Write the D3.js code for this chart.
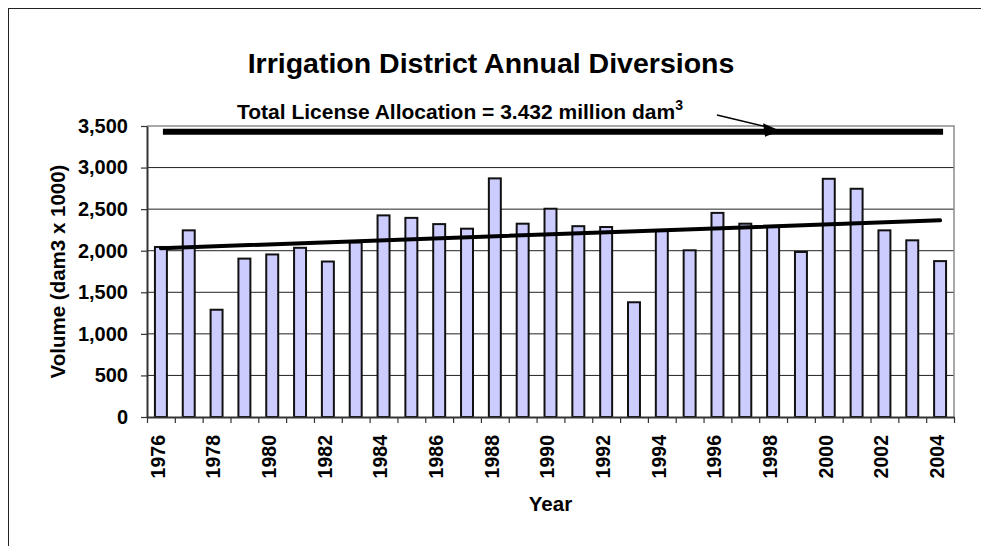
<!DOCTYPE html>
<html>
<head>
<meta charset="utf-8">
<script src="https://cdn.jsdelivr.net/npm/d3@7"></script>
<style>
  body { margin: 0; background: #fff; }
  svg { display: block; font-family: "Liberation Sans", Arial, sans-serif; font-weight: bold; }
</style>
</head>
<body>
<div id="chart"></div>
<script>
// data
var years = [1976, 1977, 1978, 1979, 1980, 1981, 1982, 1983, 1984, 1985,
  1986, 1987, 1988, 1989, 1990, 1991, 1992, 1993, 1994, 1995,
  1996, 1997, 1998, 1999, 2000, 2001, 2002, 2003, 2004]
var diversions = [2045, 2245, 1290, 1905, 1955, 2035, 1870, 2100, 2425, 2395,
  2320, 2265, 2870, 2325, 2505, 2295, 2285, 1380, 2240, 2005,
  2455, 2325, 2285, 1985, 2865, 2745, 2245, 2125, 1875]
var yTicks = [0, 500, 1000, 1500, 2000, 2500, 3000, 3500]
var yearLabels = [1976, 1978, 1980, 1982, 1984, 1986, 1988, 1990, 1992, 1994,
  1996, 1998, 2000, 2002, 2004]
var trendYears = [1976, 2004]
var trendValues = [2030, 2365]
var allocation = 3432

function draw() {
  var width = 981
  var height = 546
  var pl = 147, pr = 954, pt = 126, pb = 417

  var svg = d3.select("#chart").append("svg")
    .attr("width", width)
    .attr("height", height)

  // outer chart frame
  svg.append("rect")
    .attr("x", 8.5).attr("y", 8.5)
    .attr("width", 1000).attr("height", 600)
    .attr("fill", "none")
    .attr("stroke", "#222")
    .attr("stroke-width", 1)

  var x = d3.scaleBand()
    .domain(years)
    .range([pl, pr])
    .paddingInner(0.57)
    .paddingOuter(0.285)

  // category edges for the tick marks
  var xEdge = d3.scaleLinear().domain([0, years.length]).range([pl, pr])

  var y = d3.scaleLinear().domain([0, 3500]).range([pb, pt])

  function cx(yr) { return x(yr) + x.bandwidth() / 2 }

  // gridlines
  svg.append("g")
    .selectAll("line")
    .data(yTicks.filter(function (d) { return d > 0 && d < 3500 }))
    .join("line")
    .attr("x1", pl).attr("x2", pr)
    .attr("y1", function (d) { return y(d) }).attr("y2", function (d) { return y(d) })
    .attr("stroke", "#222")
    .attr("stroke-width", 1)

  // plot border (top + right)
  svg.append("path")
    .attr("d", "M" + pl + "," + pt + "H" + pr + "V" + pb)
    .attr("fill", "none")
    .attr("stroke", "#8c8c8c")
    .attr("stroke-width", 1.5)

  // bars
  svg.append("g")
    .selectAll("rect")
    .data(years)
    .join("rect")
    .attr("x", function (d) { return x(d) })
    .attr("y", function (d, i) { return y(diversions[i]) })
    .attr("width", x.bandwidth())
    .attr("height", function (d, i) { return pb - y(diversions[i]) })
    .attr("fill", "#ccccff")
    .attr("stroke", "#111")
    .attr("stroke-width", 2)

  // y axis
  var yAxis = svg.append("g")
    .attr("transform", "translate(" + pl + ",0)")
    .call(d3.axisLeft(y).tickValues(yTicks).tickFormat(d3.format(",")).tickSize(6).tickSizeOuter(0).tickPadding(13))
  yAxis.select(".domain").attr("stroke", "#333").attr("stroke-width", 2)
  yAxis.selectAll(".tick line").attr("stroke", "#333").attr("stroke-width", 1.2)
  yAxis.selectAll("text")
    .attr("font-size", 20).attr("font-weight", "bold").attr("fill", "#000")
    .attr("font-family", "Liberation Sans, Arial, sans-serif")

  // x axis: tick marks between categories
  var xAxis = svg.append("g")
    .attr("transform", "translate(0," + pb + ")")
    .call(d3.axisBottom(xEdge).tickValues(d3.range(years.length + 1)).tickFormat("").tickSize(6).tickSizeOuter(0))
  xAxis.select(".domain").attr("stroke", "#333").attr("stroke-width", 2)
  xAxis.selectAll(".tick line").attr("stroke", "#333").attr("stroke-width", 1.2)

  // year labels, rotated
  svg.append("g")
    .selectAll("text")
    .data(yearLabels)
    .join("text")
    .attr("transform", function (d) { return "translate(" + cx(d) + ",435) rotate(-90)" })
    .attr("dy", "0.2em")
    .attr("text-anchor", "end")
    .attr("font-size", 19.5)
    .text(function (d) { return d })

  // trend line
  svg.append("line")
    .attr("x1", cx(trendYears[0])).attr("y1", y(trendValues[0]))
    .attr("x2", cx(trendYears[1])).attr("y2", y(trendValues[1]))
    .attr("stroke", "#000")
    .attr("stroke-width", 4)
    .attr("stroke-linecap", "round")

  // licence allocation line
  svg.append("line")
    .attr("x1", cx(years[0]) + 2).attr("x2", cx(years[years.length - 1]) + 3)
    .attr("y1", y(allocation)).attr("y2", y(allocation))
    .attr("stroke", "#000")
    .attr("stroke-width", 6)

  // arrow pointing at allocation line
  var tipX = xEdge(22.75), tipY = y(allocation) - 1
  svg.append("line")
    .attr("x1", 717).attr("y1", 115)
    .attr("x2", tipX - 10).attr("y2", tipY - 3)
    .attr("stroke", "#000").attr("stroke-width", 1.5)
  svg.append("path")
    .attr("d", "M" + tipX + "," + tipY + "L" + (tipX - 17) + "," + (tipY - 7.5) + "L" + (tipX - 15) + "," + (tipY + 6) + "Z")
    .attr("fill", "#000")

  // title
  svg.append("text")
    .attr("x", 491).attr("y", 72.5)
    .attr("text-anchor", "middle")
    .attr("font-size", 28.5)
    .text("Irrigation District Annual Diversions")

  // annotation
  var ann = svg.append("text")
    .attr("x", 237).attr("y", 119)
    .attr("font-size", 21)
  ann.append("tspan").text("Total License Allocation = 3.432 million dam")
  ann.append("tspan").attr("dy", -9).attr("font-size", 14).text("3")

  // axis titles
  svg.append("text")
    .attr("x", (pl + pr) / 2).attr("y", 511)
    .attr("text-anchor", "middle")
    .attr("font-size", 20.5)
    .text("Year")

  svg.append("text")
    .attr("transform", "translate(65," + ((pt + pb) / 2) + ") rotate(-90)")
    .attr("text-anchor", "middle")
    .attr("font-size", 20.5)
    .text("Volume (dam3 x 1000)")
}

draw()
</script>
</body>
</html>
